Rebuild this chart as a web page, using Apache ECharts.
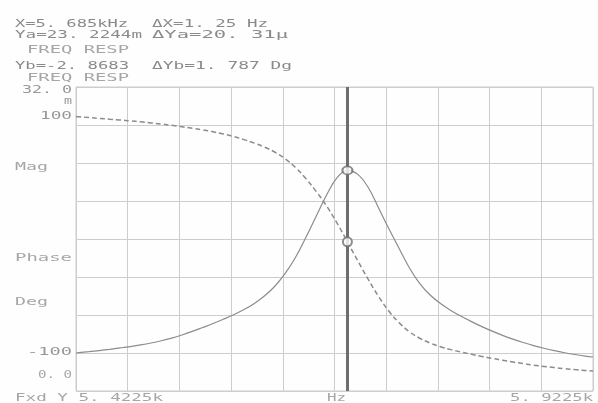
<!DOCTYPE html>
<html>
<head>
<meta charset="utf-8">
<script src="https://cdn.jsdelivr.net/npm/echarts@6.0.0/dist/echarts.min.js"></script>
<style>
html,body{margin:0;padding:0;background:#fefefe;}
#chart{width:598px;height:403px;}
</style>
</head>
<body>
<div id="chart"></div>
<script>
// ---- data ----
const freqHz = [5422.5,5425,5435,5445,5455,5465,5475,5485,5495,5505,5515,5525,5535,5545,5555,5565,5575,5585,5595,5605,5615,5625,5635,5645,5655,5665,5675,5685,5695,5705,5715,5725,5735,5745,5755,5765,5775,5785,5795,5805,5815,5825,5835,5845,5855,5865,5875,5885,5895,5905,5915,5922.5];
const magnitudeM = [4.00,4.03,4.14,4.26,4.39,4.53,4.68,4.85,5.05,5.29,5.57,5.90,6.27,6.68,7.10,7.55,8.03,8.57,9.22,10.02,11.05,12.4,14.1,16.2,18.45,20.65,22.45,23.22,22.8,21.45,19.3,17.1,15.0,12.95,11.3,10.1,9.2,8.48,7.86,7.3,6.78,6.3,5.86,5.46,5.1,4.78,4.5,4.25,4.03,3.84,3.68,3.58];
const phaseDeg = [99.8,99.6,98.9,98.2,97.5,96.8,96.0,95.2,94.3,93.3,92.2,91.0,89.7,88.3,86.7,84.8,82.6,80.0,77.0,73.5,69.2,63.5,56.0,46.5,35.5,23.0,8.5,-7.4,-23.6,-39.4,-54.0,-66.6,-76.6,-84.4,-89.9,-94.0,-97.1,-99.6,-101.7,-103.6,-105.4,-107.1,-108.7,-110.2,-111.6,-112.9,-114.0,-115.0,-115.9,-116.7,-117.4,-117.9];
const markerFreq = 5685;
const xRange = [5422.5, 5922.5];
const magRange = [0, 32];
const phaseRange = [-135, 125];

// ---- texts ----
const headerTexts = ["X=5. 685kHz","ΔX=1. 25 Hz","Ya=23. 2244m","ΔYa=20. 31μ","FREQ RESP","Yb=-2. 8683","ΔYb=1. 787 Dg","FREQ RESP"];
const leftLabels = ["32. 0","m","100","Mag","Phase","Deg","-100","0. 0"];
const bottomLabels = ["Fxd Y 5. 4225k","Hz","5. 9225k"];

const FONT = '11px "DejaVu Sans Mono"';
const cv = document.createElement('canvas').getContext('2d');
cv.font = FONT;
function txt(text, x0, x1, yc, color) {
  const w = cv.measureText(text).width || 1;
  return {
    type: 'text', x: x0, y: yc, scaleX: (x1 - x0) / w, silent: true,
    style: { text: text, font: FONT, fill: color, textAlign: 'left', textVerticalAlign: 'middle', align: 'left', verticalAlign: 'middle' }
  };
}
const C1 = '#8a8a8a', C2 = '#a6a6a6', C3 = '#979797';
const graphics = [
  txt(headerTexts[0], 15, 128, 24, C1),
  txt(headerTexts[1], 152, 268, 24, C1),
  txt(headerTexts[2], 15, 142, 35, C1),
  txt(headerTexts[3], 152, 288, 35, C1),
  txt(headerTexts[4], 27, 129, 50, C2),
  txt(headerTexts[5], 15, 129, 66, C1),
  txt(headerTexts[6], 152, 292, 66, C1),
  txt(headerTexts[7], 27, 129, 78, C2),
  txt(leftLabels[0], 22, 72, 90, C3),
  txt(leftLabels[1], 64, 72, 101, C3),
  txt(leftLabels[2], 40, 72, 116.5, C3),
  txt(leftLabels[3], 15, 48, 167, C2),
  txt(leftLabels[4], 15, 72, 258, C2),
  txt(leftLabels[5], 15, 48, 302, C2),
  txt(leftLabels[6], 27, 72, 352, C3),
  txt(leftLabels[7], 38, 72, 375, C2),
  txt(bottomLabels[0], 15, 163, 398, C2),
  txt(bottomLabels[1], 327, 346, 398, C2),
  txt(bottomLabels[2], 510, 593, 398, C2)
];

const magData = freqHz.map((f, i) => [f, magnitudeM[i]]);
const phaseData = freqHz.map((f, i) => [f, phaseDeg[i]]);
const mi = freqHz.indexOf(markerFreq);

const GRIDC = '#cdcdcd';
const chart = echarts.init(document.getElementById('chart'), null, { renderer: 'canvas' });
chart.setOption({
  animation: false,
  backgroundColor: '#fefefe',
  grid: { left: 76, top: 87, width: 517, height: 304, show: true, borderColor: GRIDC, borderWidth: 1, backgroundColor: 'transparent' },
  xAxis: [
    { type: 'value', min: xRange[0], max: xRange[1], show: false },
    { type: 'value', min: 0, max: 10, interval: 1, position: 'bottom',
      axisLine: { show: false }, axisTick: { show: false }, axisLabel: { show: false },
      splitLine: { show: true, lineStyle: { color: GRIDC, width: 1 } } }
  ],
  yAxis: [
    { type: 'value', min: magRange[0], max: magRange[1], interval: 4,
      axisLine: { show: false }, axisTick: { show: false }, axisLabel: { show: false },
      splitLine: { show: true, lineStyle: { color: GRIDC, width: 1 } } },
    { type: 'value', min: phaseRange[0], max: phaseRange[1], show: false, splitLine: { show: false } }
  ],
  graphic: graphics,
  series: [
    { type: 'line', xAxisIndex: 0, yAxisIndex: 0, data: magData, showSymbol: false, smooth: 0.4,
      lineStyle: { color: '#8c8c8c', width: 1.2 }, silent: true,
      markLine: { silent: true, symbol: ['none', 'none'], label: { show: false },
        lineStyle: { color: '#6e6e6e', width: 3, type: 'solid' },
        data: [{ xAxis: markerFreq }] } },
    { type: 'line', xAxisIndex: 0, yAxisIndex: 1, data: phaseData, showSymbol: false, smooth: 0.4,
      lineStyle: { color: '#8c8c8c', width: 1.5, type: [5, 3] }, silent: true },
    { type: 'scatter', xAxisIndex: 0, yAxisIndex: 0, data: [magData[mi]], symbol: 'emptyCircle', symbolSize: [10, 8],
      itemStyle: { color: '#6e6e6e', borderWidth: 1.5 }, silent: true, z: 5 },
    { type: 'scatter', xAxisIndex: 0, yAxisIndex: 1, data: [phaseData[mi]], symbol: 'emptyCircle', symbolSize: 9,
      itemStyle: { color: '#6e6e6e', borderWidth: 1.5 }, silent: true, z: 5 }
  ]
});
</script>
</body>
</html>
